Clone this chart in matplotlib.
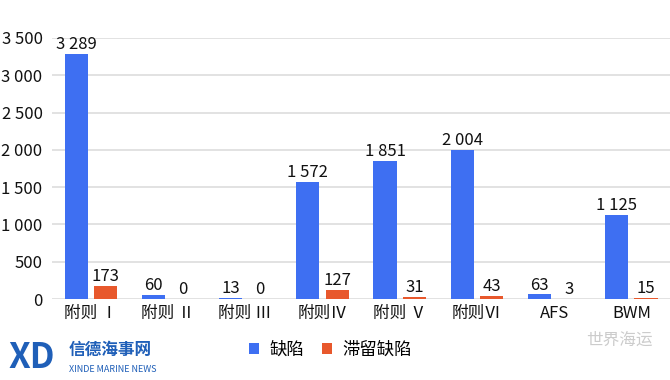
import matplotlib.pyplot as plt
import matplotlib.ticker as ticker
import numpy as np

# categories and counts
categories = ['附则 Ⅰ', '附则 Ⅱ', '附则 Ⅲ', '附则Ⅳ', '附则 Ⅴ', '附则Ⅵ', 'AFS', 'BWM']
defects = [3289, 60, 13, 1572, 1851, 2004, 63, 1125]
detentions = [173, 0, 0, 127, 31, 43, 3, 15]
y_ticks = [0, 500, 1000, 1500, 2000, 2500, 3000, 3500]

BLUE = '#3e6ff2'
ORANGE = '#e8582c'

plt.rcParams['font.family'] = ['Noto Sans CJK SC', 'DejaVu Sans']


def fmt_space(v):
    return format(int(v), ',').replace(',', ' ')


fig = plt.figure(figsize=(6.7, 3.8), dpi=100)
ax = fig.add_axes([0.078, 0.213, 0.922, 0.687])

x = np.arange(len(categories))
w = 0.3
b1 = ax.bar(x - 0.19, defects, width=w, color=BLUE, label='缺陷', zorder=3)
b2 = ax.bar(x + 0.19, detentions, width=w, color=ORANGE, label='滞留缺陷', zorder=3)

for rect, v in zip(b1, defects):
    ax.text(rect.get_x() + rect.get_width() / 2, v + 10, fmt_space(v),
            ha='center', va='bottom', fontsize=12, color='#111111')
for rect, v in zip(b2, detentions):
    ax.text(rect.get_x() + rect.get_width() / 2, v + 10, fmt_space(v),
            ha='center', va='bottom', fontsize=12, color='#111111')

ax.set_xlim(-0.5, len(categories) - 0.5)
ax.set_ylim(0, 3500)
ax.set_yticks(y_ticks)
ax.yaxis.set_major_formatter(ticker.FuncFormatter(lambda v, p: fmt_space(v)))
ax.set_xticks(x)
ax.set_xticklabels(categories, fontsize=12)
ax.tick_params(axis='both', length=0, colors='#111111')
ax.tick_params(axis='y', labelsize=12, pad=7)
ax.tick_params(axis='x', pad=4)
ax.grid(axis='y', color='#dddddd', linewidth=1.2, zorder=0)
for s in ax.spines.values():
    s.set_visible(False)

ax.legend(loc='upper center', bbox_to_anchor=(0.45, -0.10), ncol=2, frameon=False,
          fontsize=12.5, handlelength=0.6, handleheight=0.6, columnspacing=1.0,
          handletextpad=0.6)

# logo and watermark
fig.text(0.012, 0.06, 'XD', fontsize=25, fontweight='bold', color='#1f5fb8',
         fontstyle='italic', va='center')
fig.text(0.103, 0.08, '信德海事网', fontsize=12, color='#1f5fb8',
         fontweight='bold', va='center')
fig.text(0.103, 0.028, 'XINDE MARINE NEWS', fontsize=6.5, color='#1f5fb8', va='center')
fig.text(0.875, 0.105, '世界海运', fontsize=12, color='#cccccc', va='center', ha='left')

fig.savefig('out.png', dpi=100)
